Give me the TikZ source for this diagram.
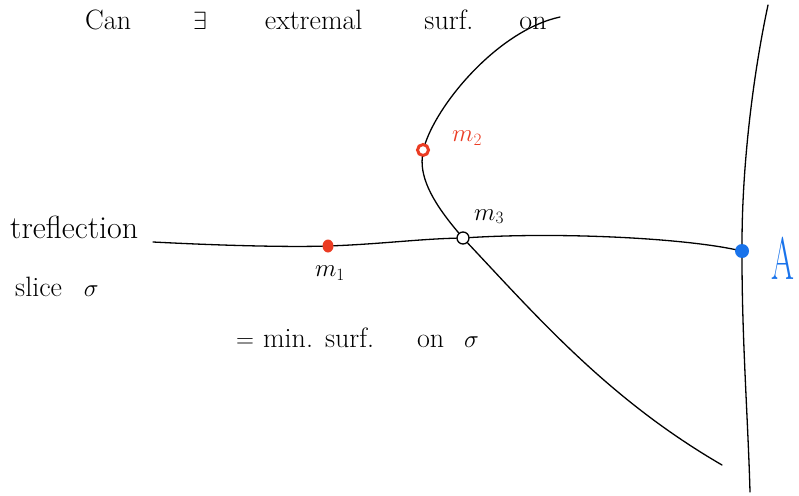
\documentclass[tikz,border=0pt]{standalone}
\usepackage{amsmath,amssymb}
\usepackage{tikz}
\usetikzlibrary{positioning,
shapes.geometric}

\definecolor{penred}{RGB}{235,60,35}
\definecolor{penblue}{RGB}{25,115,235}

\begin{document}
\begin{tikzpicture}[
    x=1pt, y=-1pt,
    pen/.style={
        line width=1.3pt,
        line cap=round
    },
    note/.style={
        font=\fontsize{28}{34}\selectfont,
        inner sep=0pt
    },
    small/.style={
        font=\fontsize{24}{28}\selectfont,
        inner sep=0pt
    },
    reddot/.style={
        ellipse,
        fill=penred,
        minimum width=11pt,
        minimum height=13pt,
        inner sep=0pt
    },
    redring/.style={
        circle,
        draw=penred,
        line width=3pt,
        minimum size=11pt,
        inner sep=0pt
    },
    bluedot/.style={
        circle,
        fill=penblue,
        minimum size=14pt,
        inner sep=0pt
    },
    blackring/.style={
        circle,
        draw,
        line width=1.3pt,
        minimum size=12pt,
        inner sep=0pt
    }
]
\useasboundingbox (0,0) rectangle (799,495);

%-------------------------------------------------
% Slice sigma and the points on it
%-------------------------------------------------

\coordinate (sl) at (153,242);
\node[reddot] (m1) at (328,246) {};
\node[blackring] (m3) at (463,238) {};
\node[bluedot] (A) at (742,251) {};

\draw[pen] (sl) .. controls (230,246) and (290,247) .. (m1);
\draw[pen] (m1) .. controls (380,244) and (420,239) .. (m3);
\draw[pen] (m3) .. controls (560,232) and (680,238) .. (A);

%-------------------------------------------------
% Extremal surfaces
%-------------------------------------------------

\coordinate (top) at (560,17);
\coordinate (bot) at (722,465);
\node[redring] (m2) at (423,150) {};

\draw[pen] (top) .. controls (500,30) and (440,100) .. (m2);
\draw[pen] (m2) .. controls (420,180) and (435,205) .. (m3);
\draw[pen] (m3) .. controls (540,320) and (610,400) .. (bot);

%-------------------------------------------------
% Boundary
%-------------------------------------------------

\coordinate (bt) at (768,5);
\coordinate (bb) at (750,492);

\draw[pen] (bt) .. controls (752,80) and (742,170) .. (A);
\draw[pen] (A) .. controls (742,340) and (748,420) .. (bb);

%-------------------------------------------------
% Labels
%-------------------------------------------------

\node[note, anchor=base west] (q) at (85,30)
{Can\hspace{62pt}$\exists$\hspace{58pt}extremal\hspace{62pt}surf.\hspace{46pt}on};

\node[note, font=\fontsize{32}{38}\selectfont, anchor=base west] (tr) at (10,238) {treflection};
\node[note, anchor=base west] (sg) at (15,296) {slice\hspace{22pt}$\sigma$};

\node[small, anchor=north] (l1) at (330,266) {$m_1$};
\node[small, anchor=south west] (l3) at (474,224) {$m_3$};
\node[small, text=penred, anchor=west] (l2) at (452,138) {$m_2$};
\node[text=penblue, font=\fontsize{60}{66}\selectfont, anchor=west, inner sep=0pt] (lA) at (771,258) {\scalebox{0.55}[1]{A}};

\node[note, anchor=base west] (ms) at (236,347)
{$=$\hspace{9pt}min.\hspace{12pt}surf.\hspace{43pt}on\hspace{20pt}$\sigma$};

\end{tikzpicture}
\end{document}
